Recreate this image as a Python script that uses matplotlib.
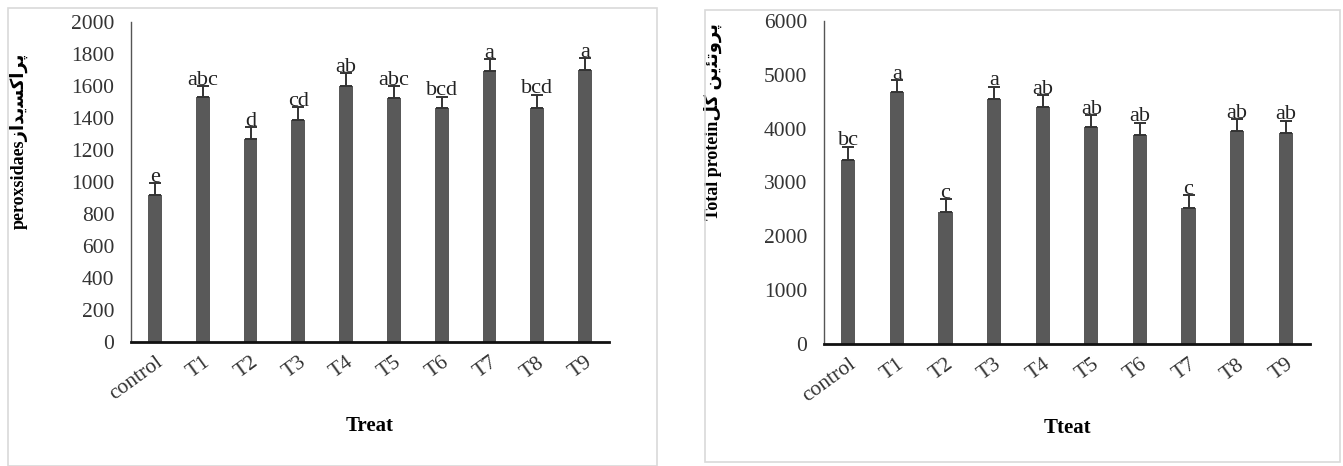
import numpy as np
import matplotlib
matplotlib.use("Agg")
import matplotlib.pyplot as plt
from matplotlib.patches import Rectangle

plt.rcParams['font.family'] = ['Liberation Serif', 'DejaVu Sans']

treatments = ["control", "T1", "T2", "T3", "T4", "T5", "T6", "T7", "T8", "T9"]

# peroxidase activity
perox_mean = [919, 1533, 1267, 1387, 1600, 1523, 1460, 1694, 1460, 1700]
perox_err = [75, 67, 75, 80, 79, 77, 73, 73, 85, 75]
perox_letters = ["e", "abc", "d", "cd", "ab", "abc", "bcd", "a", "bcd", "a"]

# total protein
prot_mean = [3418, 4687, 2458, 4551, 4396, 4025, 3882, 2532, 3957, 3913]
prot_err = [247, 217, 229, 229, 223, 223, 229, 236, 216, 235]
prot_letters = ["bc", "a", "c", "a", "ab", "ab", "ab", "c", "ab", "ab"]

# Persian words pre-shaped (presentation forms, visual order)
perox_fa = "\uFEAF\uFE8D\uFEAA\uFBFE\uFEB4\uFB90\uFE8D\uFEAE\uFB58"
prot_fa = "\uFEDE\uFB90 \uFEE6\uFBFE\uFE8C\uFE97\uFEED\uFEAE\uFB58"

bar_color = "#595959"


def draw_panel(ax, means, errs, letters, ymax, ystep, ylabel, xlabel):
    x = np.arange(len(treatments))
    lower = np.zeros(len(errs))
    ax.bar(x, means, width=0.29, color=bar_color, zorder=2)
    ax.errorbar(x, means, yerr=[lower, errs], fmt="none", ecolor="#333333",
                elinewidth=1.4, capsize=4.5, capthick=1.4, zorder=3)
    for xi, m, e, lab in zip(x, means, errs, letters):
        ax.annotate(lab, (xi, m + e), xytext=(0, 1), textcoords="offset points",
                    ha="center", va="baseline", fontsize=16, color="#222222")
    ax.set_xlim(-0.5, len(treatments) - 0.5)
    ax.set_ylim(0, ymax)
    ax.set_yticks(np.arange(0, ymax + 1, ystep))
    ax.set_xticks(x)
    ax.set_xticklabels(treatments, rotation=36, ha="right", rotation_mode="anchor")
    ax.tick_params(axis="both", length=0, labelsize=15.5, colors="#333333")
    ax.tick_params(axis="x", pad=8)
    ax.tick_params(axis="y", pad=12)
    for s in ["top", "right"]:
        ax.spines[s].set_visible(False)
    ax.spines["left"].set_color("#555555")
    ax.spines["left"].set_linewidth(1.0)
    ax.spines["bottom"].set_color("#111111")
    ax.spines["bottom"].set_linewidth(2.0)
    ax.set_ylabel(ylabel, fontsize=13, fontweight="bold")
    ax.set_xlabel(xlabel, fontsize=15, fontweight="bold")


fig = plt.figure(figsize=(13.43, 4.66), dpi=100)

# light panel frames
for x0, y0, w, h in [(8, 0, 649, 458), (705, 4, 635, 452)]:
    fig.patches.append(Rectangle((x0 / 1343, y0 / 466), w / 1343, h / 466,
                                 transform=fig.transFigure, fill=False,
                                 edgecolor="#d9d9d9", linewidth=1.2))

ax1 = fig.add_axes([131 / 1343, 124 / 466, 478 / 1343, 320 / 466])
draw_panel(ax1, perox_mean, perox_err, perox_letters, 2000, 200,
           "peroxsidaes" + perox_fa, "Treat")
ax1.yaxis.set_label_coords(-0.215, 0.63)
ax1.xaxis.set_label_coords(0.5, -0.23)

ax2 = fig.add_axes([824 / 1343, 122 / 466, 486 / 1343, 323 / 466])
draw_panel(ax2, prot_mean, prot_err, prot_letters, 6000, 1000,
           "Total protein" + prot_fa, "Tteat")
ax2.yaxis.set_label_coords(-0.21, 0.69)
ax2.xaxis.set_label_coords(0.5, -0.23)

fig.savefig("out.png", dpi=100)
